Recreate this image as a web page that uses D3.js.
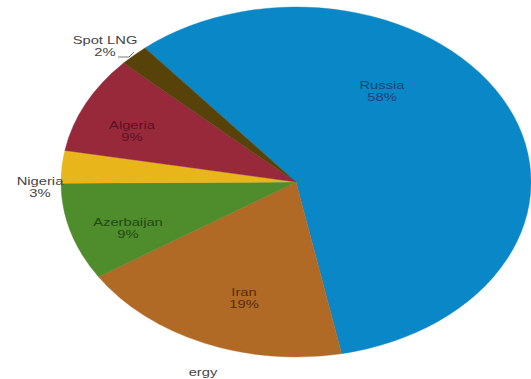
<!DOCTYPE html>
<html>
<head>
<meta charset="utf-8">
<script src="https://cdn.jsdelivr.net/npm/d3@7"></script>
<style>
  html, body { margin: 0; padding: 0; background: #fff; }
  svg { display: block; }
  text { font-family: "Liberation Sans", Arial, sans-serif; }
</style>
</head>
<body>
<svg id="chart" width="531" height="379"></svg>
<script>
// Gas supply shares by source
const suppliers = ["Russia", "Iran", "Azerbaijan", "Nigeria", "Algeria", "Spot LNG"];
const shares = [58, 19, 9, 3, 9, 2];
const fills = ["#0a87c6", "#b06a25", "#4f8c2c", "#e8b61a", "#98293b", "#57420a"];
const labelInk = ["#1d3f78", "#5a2a0a", "#1f4a12", "#444444", "#5a1222", "#444444"];
// label block centres (px) and leader line for the small outside slice
const labelAt = [[382, 91], [244, 298], [128, 228], [40, 187], [132, 131], [105, 46]];

const W = 531, H = 379;
const cx = 296, cy = 182, rx = 235, ry = 175, R = 100;
const stretch = 1.34; // horizontal text scaling

const svg = d3.select("#chart");

const pie = d3.pie().sort(null).value(d => d)
  .startAngle(-40 * Math.PI / 180)
  .endAngle(320 * Math.PI / 180);
const arcs = pie(shares);
const arc = d3.arc().innerRadius(0).outerRadius(R);

const g = svg.append("g")
  .attr("transform", `translate(${cx},${cy}) scale(${rx / R},${ry / R})`);

g.selectAll("path")
  .data(arcs)
  .join("path")
  .attr("d", arc)
  .attr("fill", (d, i) => fills[i])
  .attr("stroke", (d, i) => fills[i])
  .attr("stroke-width", 0.4)
  .attr("vector-effect", "non-scaling-stroke");

// labels: name + percent
const lab = svg.append("g").selectAll("g")
  .data(arcs)
  .join("g")
  .attr("transform", (d, i) => `translate(${labelAt[i][0]},${labelAt[i][1]}) scale(${stretch},1)`);

lab.append("text")
  .attr("text-anchor", "middle")
  .attr("y", -2)
  .attr("font-size", 11)
  .attr("fill", (d, i) => labelInk[i])
  .text((d, i) => suppliers[i]);

lab.append("text")
  .attr("text-anchor", "middle")
  .attr("y", 10)
  .attr("font-size", 11)
  .attr("fill", (d, i) => labelInk[i])
  .text(d => d.value + "%");

// leader from the Spot LNG label to its slice
svg.append("polyline")
  .attr("points", "118,57 129,57 134,52")
  .attr("fill", "none")
  .attr("stroke", "#555")
  .attr("stroke-width", 0.8);

// caption fragment below the pie
svg.append("text")
  .attr("transform", `translate(203,376) scale(${stretch},1)`)
  .attr("text-anchor", "middle")
  .attr("font-size", 11)
  .attr("fill", "#444")
  .text("ergy");
</script>
</body>
</html>
